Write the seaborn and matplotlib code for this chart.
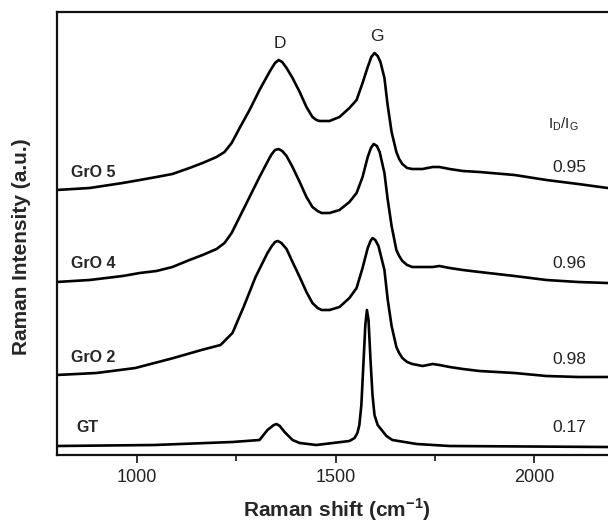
import numpy as np
import pandas as pd
import matplotlib
matplotlib.use("Agg")
import matplotlib.pyplot as plt
import seaborn as sns

# ---- data (stacked spectra, arbitrary units) ----
gro5_x = [799, 882, 965, 1008, 1050, 1090, 1133, 1166, 1201, 1221, 1239, 1259, 1284,
          1309, 1334, 1340, 1348, 1357, 1366, 1377, 1392, 1410, 1427, 1442, 1452, 1460,
          1485, 1510, 1535, 1553, 1568, 1581, 1590, 1598, 1606, 1613, 1623, 1631, 1641,
          1653, 1660, 1668, 1680, 1693, 1719, 1744, 1761, 1787, 1820, 1862, 1950, 2030,
          2110, 2184]
gro5_y = [265, 267, 272, 275, 278, 281, 287, 292, 298, 303, 312, 327, 345,
          365, 383, 387, 392, 395, 393, 387, 377, 363, 348, 338, 335, 334,
          334, 338, 347, 355, 372, 388, 398, 402, 399, 393, 377, 350, 323,
          303, 296, 291, 287, 286, 286, 288, 288, 286, 284, 283, 280, 275,
          271, 267]

gro4_x = [799, 882, 965, 1008, 1050, 1090, 1133, 1166, 1201, 1221, 1239, 1259, 1284,
          1309, 1334, 1340, 1348, 1357, 1366, 1377, 1392, 1410, 1427, 1442, 1455, 1465,
          1485, 1510, 1535, 1553, 1568, 1581, 1589, 1596, 1604, 1611, 1623, 1631, 1641,
          1653, 1660, 1668, 1680, 1693, 1719, 1744, 1761, 1787, 1820, 1862, 1950, 2030,
          2110, 2184]
gro4_y = [173, 175, 179, 182, 184, 188, 195, 200, 206, 212, 222, 238, 258,
          278, 297, 301, 305, 306, 304, 299, 288, 273, 258, 248, 244, 242,
          242, 245, 253, 262, 278, 298, 307, 311, 309, 303, 282, 256, 229,
          205, 199, 194, 190, 188, 188, 188, 189, 187, 185, 183, 179, 175,
          173, 172]

gro2_x = [799, 899, 997, 1093, 1163, 1211, 1241, 1269, 1299, 1329, 1340, 1348, 1355,
          1364, 1377, 1392, 1410, 1427, 1442, 1455, 1465, 1485, 1510, 1535, 1553, 1568,
          1581, 1588, 1593, 1600, 1608, 1623, 1631, 1641, 1653, 1660, 1668, 1680, 1693,
          1719, 1744, 1761, 1787, 1820, 1862, 1950, 2030, 2110, 2184]
gro2_y = [80, 82, 87, 97, 105, 110, 122, 148, 178, 202, 209, 213, 214,
          212, 206, 193, 178, 163, 152, 147, 145, 145, 148, 157, 167, 187,
          207, 214, 217, 215, 209, 185, 156, 129, 108, 102, 97, 93, 91,
          89, 91, 90, 88, 86, 84, 82, 79, 78, 78]

gt_x = [799, 1045, 1241, 1309, 1329, 1345, 1352, 1360, 1372, 1392, 1410, 1452, 1535,
        1548, 1555, 1560, 1565, 1570, 1575, 1579, 1583, 1588, 1593, 1598, 1606, 1616,
        1628, 1643, 1704, 1787, 2184]
gt_y = [9, 10, 13, 15, 25, 30, 31, 29, 23, 15, 12, 10, 14,
        17, 22, 30, 50, 90, 130, 145, 135, 95, 60, 40, 30, 25,
        19, 15, 11, 9, 8]

samples = ["GrO 5", "GrO 4", "GrO 2", "GT"]
ratios = ["0.95", "0.96", "0.98", "0.17"]
tick_values = [1000, 1500, 2000]

frames = []
for name, xs, ys in zip(samples, [gro5_x, gro4_x, gro2_x, gt_x],
                        [gro5_y, gro4_y, gro2_y, gt_y]):
    frames.append(pd.DataFrame({"shift": xs, "intensity": ys, "sample": name}))
df = pd.concat(frames, ignore_index=True)

# ---- styling ----
sns.set_style("white")
plt.rcParams["font.family"] = ["Liberation Sans", "DejaVu Sans"]
plt.rcParams["mathtext.fontset"] = "custom"
plt.rcParams["mathtext.rm"] = "Liberation Sans"
plt.rcParams["mathtext.bf"] = "Liberation Sans:bold"

fig = plt.figure(figsize=(6.08, 5.26), dpi=100)
ax = fig.add_axes([57 / 608, 71 / 526, 557 / 608, 443 / 526])

sns.lineplot(data=df, x="shift", y="intensity", hue="sample", units="sample",
             estimator=None, sort=False, palette=["black"] * 4, legend=False,
             linewidth=1.9, ax=ax)
for ln in ax.lines:
    ln.set_solid_joinstyle("round")

ax.set_xlim(800, 2200)
ax.set_ylim(0, 443)
ax.set_yticks([])
ax.set_xticks(tick_values)
ax.set_xticks([1250, 1750], minor=True)
ax.tick_params(axis="x", which="major", direction="out", length=6, width=1.3,
               bottom=True, labelsize=13, pad=4, colors="#222222")
ax.tick_params(axis="x", which="minor", direction="out", length=4, width=1.3,
               bottom=True)
for s in ["left", "top", "bottom"]:
    ax.spines[s].set_linewidth(1.6)
    ax.spines[s].set_color("#111111")
ax.spines["right"].set_visible(False)

ax.set_xlabel(r"Raman shift (cm$^{\mathbf{-1}}$)", fontsize=15, fontweight="bold",
              va="center")
ax.xaxis.set_label_coords(0.503, -0.124)
ax.set_ylabel("Raman Intensity (a.u.)", fontsize=15, fontweight="bold", va="center")
ax.yaxis.set_label_coords(-0.064, 0.47)

# sample labels (left)
label_pos = [(834, 283), (834, 192), (834, 97), (849, 28)]
for name, (lx, ly) in zip(samples, label_pos):
    ax.text(lx, ly, name, fontsize=11.5, fontweight="bold", ha="left", va="center")

# ratio labels (right)
ratio_y = [288, 191, 96, 27]
for r, ry in zip(ratios, ratio_y):
    ax.text(2088, ry, r, fontsize=12.5, ha="center", va="center", color="#222222")
ax.text(2073, 331, r"I$_\mathregular{D}$/I$_\mathregular{G}$", fontsize=11,
        ha="center", va="center", color="#222222")

# peak labels
ax.text(1359, 412, "D", fontsize=12.5, ha="center", va="center", color="#222222")
ax.text(1603, 419, "G", fontsize=12.5, ha="center", va="center", color="#222222")

fig.savefig("out.png", dpi=100)
